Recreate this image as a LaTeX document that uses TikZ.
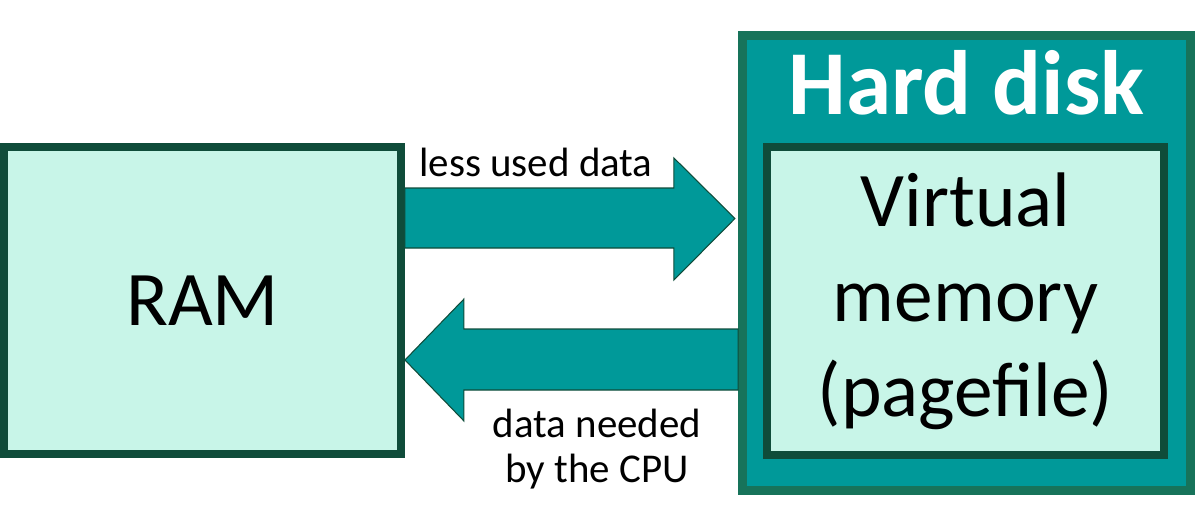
\documentclass[tikz,border=0pt]{standalone}
\usepackage{fontspec}
\setmainfont{Carlito}
\usepackage{tikz}
\usetikzlibrary{calc}

\definecolor{teal}{HTML}{009999}
\definecolor{mint}{HTML}{C8F5E8}
\definecolor{darkgreen}{HTML}{0F4C3A}
\definecolor{diskgreen}{HTML}{17735A}

\tikzset{
	membox/.style={draw=darkgreen, line width=0.16cm, fill=mint, inner sep=0pt, minimum width=7.94cm, minimum height=6.15cm, align=center, font=\fontsize{44}{54}\selectfont},
	diskbox/.style={draw=diskgreen, line width=0.18cm, fill=teal, inner sep=0pt, minimum width=8.96cm, minimum height=9.1cm},
	blockarrow/.style={draw=darkgreen, line width=0.6pt, fill=teal, line join=miter},
	small/.style={font=\fontsize{23.3}{25.6}\selectfont, align=center, inner sep=0pt}
}

\begin{document}
\begin{tikzpicture}[x=0.02cm,y=-0.02cm]
	\useasboundingbox (0,0) rectangle (1200,522);

	%Boxes
	%RAM
	\node[membox] (ram) at (202.5,300.5) {RAM};

	%Hard disk
	\node[diskbox] (disk) at (966.5,263) {};
	\node[font=\fontsize{52}{60}\selectfont\bfseries, text=white, inner sep=0pt] (disklabel) at ($(disk.north)+(0,52)$) {Hard disk};
	\node[membox] (vmem) at (965.5,301) {Virtual\\memory\\(pagefile)};

	%Arrows
	%RAM to disk
	\draw[blockarrow] ($(ram.east)+(0,-112.5)$) -- ++(269,0) -- ++(0,-30) -- ++(61,60.5) -- ++(-61,61.5) -- ++(0,-32) -- ++(-269,0) -- cycle;
	%disk to RAM
	\draw[blockarrow] ($(ram.east)+(0,59.5)$) -- ++(59,-61) -- ++(0,30) -- ($(disk.west |- ram.east)+(0,28.5)$) -- ++(0,61) -- ($(ram.east)+(59,89.5)$) -- ++(0,31) -- cycle;

	%Labels
	\node[small] (lessused) at (536,162) {less used data};
	\node[small] (needed) at (597,449.5) {data needed\\by the CPU};

\end{tikzpicture}
\end{document}
